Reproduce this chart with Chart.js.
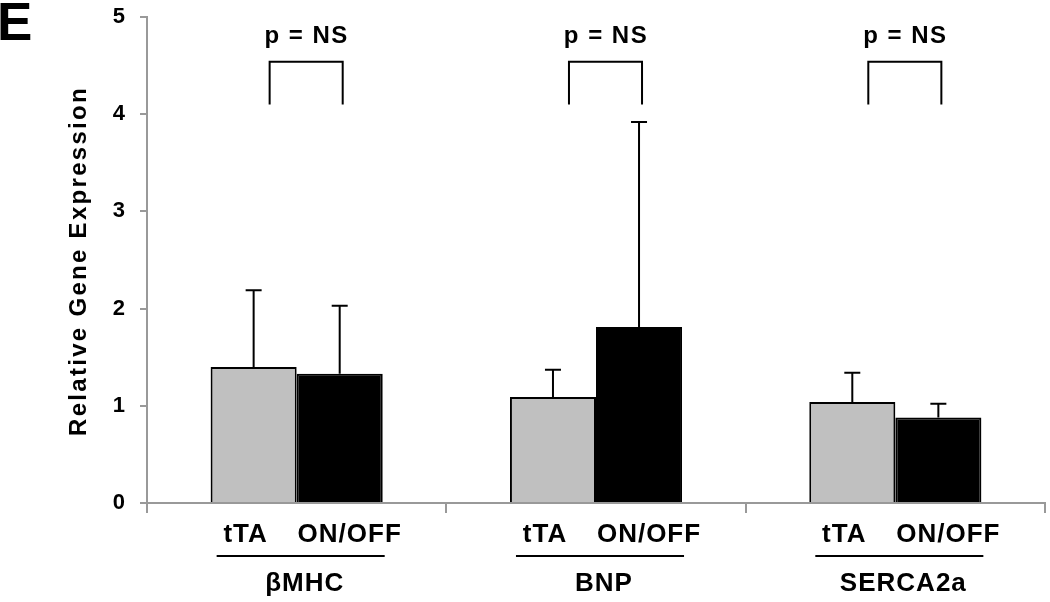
<!DOCTYPE html>
<html>
<head>
<meta charset="utf-8">
<script src="https://cdn.jsdelivr.net/npm/chart.js@4/dist/chart.umd.min.js"></script>
<style>
  html, body { margin: 0; padding: 0; background: #fff; }
  #wrap { width: 1050px; height: 602px; }
</style>
</head>
<body>
<div id="wrap"><canvas id="chart" width="1050" height="602"></canvas></div>
<script>
const genes = ['βMHC', 'BNP', 'SERCA2a'];
const groups = ['tTA', 'ON/OFF'];
const ttaMean = [1.40, 1.09, 1.04];
const ttaErr = [0.79, 0.28, 0.30];
const onOffMean = [1.33, 1.81, 0.88];
const onOffErr = [0.70, 2.11, 0.14];
const pLabels = ['p = NS', 'p = NS', 'p = NS'];
const yTicks = [0, 1, 2, 3, 4, 5];

const FONT = '"Liberation Sans", Arial, sans-serif';
Chart.defaults.font.family = FONT;
Chart.defaults.font.size = 22;
Chart.defaults.font.weight = 'bold';
const errs = [ttaErr, onOffErr];

const annotate = {
  id: 'annotate',
  afterDatasetsDraw(chart) {
    const ctx = chart.ctx;
    const y = chart.scales.y;
    ctx.save();
    ctx.strokeStyle = '#000';
    ctx.lineWidth = 2;
    chart.data.datasets.forEach((ds, i) => {
      chart.getDatasetMeta(i).data.forEach((bar, j) => {
        const top = y.getPixelForValue(ds.data[j] + errs[i][j]);
        ctx.beginPath();
        ctx.moveTo(bar.x, bar.y);
        ctx.lineTo(bar.x, top);
        ctx.moveTo(bar.x - 8, top);
        ctx.lineTo(bar.x + 8, top);
        ctx.stroke();
      });
    });
    ctx.restore();
  },
  afterDraw(chart) {
    const ctx = chart.ctx;
    const y = chart.scales.y;
    const m0 = chart.getDatasetMeta(0).data;
    const m1 = chart.getDatasetMeta(1).data;
    ctx.save();
    ctx.fillStyle = '#000';
    ctx.strokeStyle = '#000';
    ctx.lineWidth = 2;
    ctx.textAlign = 'center';
    ctx.textBaseline = 'middle';

    genes.forEach((g, j) => {
      const a = m0[j].x, b = m1[j].x;
      // significance bracket
      const yt = y.getPixelForValue(4.54), yb = y.getPixelForValue(4.10);
      ctx.beginPath();
      ctx.moveTo(a + 16, yb);
      ctx.lineTo(a + 16, yt);
      ctx.lineTo(b + 3, yt);
      ctx.lineTo(b + 3, yb);
      ctx.stroke();
      ctx.font = 'bold 24px ' + FONT;
      ctx.letterSpacing = '1.5px';
      ctx.fillText(pLabels[j], (a + b) / 2 + 10, 36);

      // group labels
      ctx.font = 'bold 26px ' + FONT;
      ctx.letterSpacing = '1px';
      ctx.fillText(groups[0], a - 8, 535);
      ctx.fillText(groups[1], b + 10, 535);
      ctx.beginPath();
      ctx.moveTo(a - 37, 556);
      ctx.lineTo(b + 45, 556);
      ctx.stroke();
      ctx.fillText(g, (a + b) / 2 + 8, 584);
    });

    // y axis title
    ctx.save();
    ctx.translate(79, 261);
    ctx.rotate(-Math.PI / 2);
    ctx.font = 'bold 24px ' + FONT;
    ctx.letterSpacing = '2.3px';
    ctx.fillText('Relative Gene Expression', 0, 0);
    ctx.restore();

    // panel letter
    ctx.textAlign = 'left';
    ctx.textBaseline = 'alphabetic';
    ctx.letterSpacing = '0px';
    ctx.font = 'bold 53px ' + FONT;
    ctx.fillText('E', -3, 40);
    ctx.restore();
  }
};

new Chart(document.getElementById('chart'), {
  type: 'bar',
  data: {
    labels: genes,
    datasets: [
      {
        label: groups[0],
        data: ttaMean,
        backgroundColor: '#c0c0c0',
        borderColor: '#000',
        borderWidth: 2
      },
      {
        label: groups[1],
        data: onOffMean,
        backgroundColor: '#000',
        borderColor: '#000',
        borderWidth: 2
      }
    ]
  },
  options: {
    responsive: false,
    animation: false,
    devicePixelRatio: 1,
    layout: { padding: { top: 17, right: 5, left: 0, bottom: 0 } },
    categoryPercentage: 0.575,
    barPercentage: 1.0,
    plugins: {
      legend: { display: false },
      tooltip: { enabled: false }
    },
    scales: {
      x: {
        offset: true,
        grid: {
          offset: true,
          drawOnChartArea: false,
          tickLength: 10,
          color: '#999',
          lineWidth: 2
        },
        border: { color: '#999', width: 2 },
        ticks: { display: false },
        afterFit(scale) { scale.height = 99; scale.paddingLeft = 0; scale.paddingRight = 0; }
      },
      y: {
        min: 0,
        max: 5,
        ticks: {
          stepSize: 1,
          padding: 15,
          color: '#000',
          font: { family: FONT, size: 22, weight: 'bold' }
        },
        afterBuildTicks(scale) { scale.ticks = yTicks.map(v => ({ value: v })); },
        grid: {
          drawOnChartArea: false,
          tickLength: 7,
          color: '#999',
          lineWidth: 2
        },
        border: { color: '#999', width: 2 },
        afterFit(scale) { scale.width = 147; scale.paddingTop = 0; scale.paddingBottom = 0; }
      }
    }
  },
  plugins: [annotate]
});
</script>
</body>
</html>
